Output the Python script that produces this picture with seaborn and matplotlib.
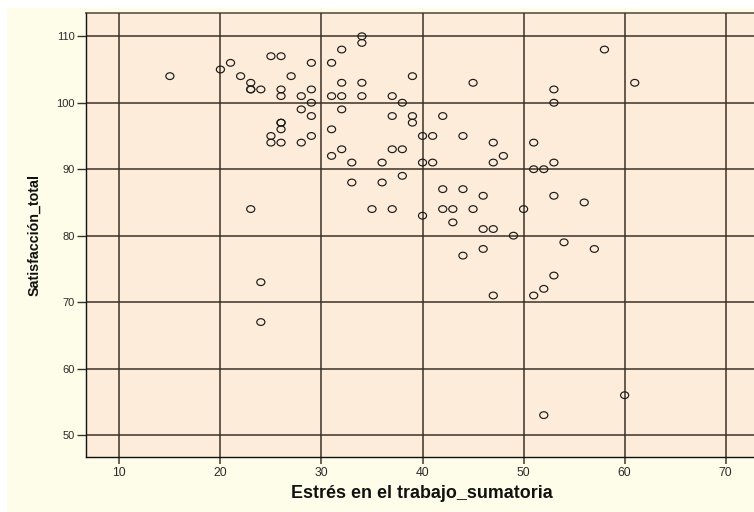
import numpy as np
import pandas as pd
import matplotlib
matplotlib.use("Agg")
import matplotlib.pyplot as plt
import seaborn as sns
from matplotlib.patches import Rectangle
from matplotlib.path import Path
from matplotlib.transforms import Affine2D
from matplotlib.markers import MarkerStyle

# ---- data ----
estres = [15, 20, 21, 22, 23, 23, 23, 23, 24, 24, 24,
          25, 25, 25, 26, 26, 26, 26, 26, 26, 26, 27,
          28, 28, 28, 29, 29, 29, 29, 29,
          31, 31, 31, 31, 32, 32, 32, 32, 32, 33, 33,
          34, 34, 34, 34, 35, 36, 36, 37, 37, 37, 37,
          38, 38, 38, 39, 39, 39, 40, 40, 40, 41, 41,
          42, 42, 42, 43, 43, 44, 44, 44, 45, 45,
          46, 46, 46, 47, 47, 47, 47, 48, 49, 50,
          51, 51, 51, 52, 52, 52, 53, 53, 53, 53, 53,
          54, 56, 57, 58, 60, 61]
satisfaccion = [104, 105, 106, 104, 103, 102, 102, 84, 102, 73, 67,
                107, 95, 94, 107, 102, 101, 97, 97, 96, 94, 104,
                101, 99, 94, 106, 102, 100, 98, 95,
                106, 101, 96, 92, 108, 103, 101, 99, 93, 91, 88,
                110, 109, 103, 101, 84, 91, 88, 101, 98, 93, 84,
                100, 93, 89, 104, 98, 97, 95, 91, 83, 95, 91,
                98, 87, 84, 84, 82, 95, 87, 77, 103, 84,
                86, 81, 78, 94, 91, 81, 71, 92, 80, 84,
                94, 90, 71, 90, 72, 53, 102, 100, 91, 86, 74,
                79, 85, 78, 108, 56, 103]
x_ticks = [10, 20, 30, 40, 50, 60, 70]
y_ticks = [50, 60, 70, 80, 90, 100, 110]
x_label = "Estrés en el trabajo_sumatoria"
y_label = "Satisfacción_total"

df = pd.DataFrame({"x": estres, "y": satisfaccion})

sns.set_style("white")
plt.rcParams["font.family"] = ["Liberation Sans", "DejaVu Sans"]

W, H = 754, 512
fig = plt.figure(figsize=(W / 100, H / 100), dpi=100, facecolor="white")
bgrect = Rectangle((7 / W, 0), 1, 1 - 8 / H, transform=fig.transFigure,
                   facecolor="#FEFDE9", edgecolor="none", zorder=-10)
fig.patches.append(bgrect)

left, right, top, bottom = 86, 754, 13, 457
ax = fig.add_axes([left / W, (H - bottom) / H, (right - left) / W, (bottom - top) / H])
ax.set_zorder(5)
ax.set_facecolor("#FDECD9")

grid_color = "#3a3026"

ell = Path.unit_circle().transformed(Affine2D().scale(1.2, 1.0))
sns.scatterplot(data=df, x="x", y="y", ax=ax, marker=MarkerStyle(ell), s=34,
                facecolor="none", edgecolor="#1a1a1a", linewidth=0.85, zorder=3)

ax.set_xlim(6.7, 72.8)
ax.set_ylim(46.7, 113.5)
ax.set_xticks(x_ticks)
ax.set_yticks(y_ticks)
ax.grid(True, color=grid_color, alpha=0.78, linewidth=1.4, zorder=1)
ax.set_axisbelow(True)

for s in ["left", "bottom"]:
    ax.spines[s].set_color("#111111")
    ax.spines[s].set_linewidth(1.0)
ax.spines["top"].set_color(grid_color)
ax.spines["top"].set_alpha(0.7)
ax.spines["top"].set_linewidth(1.4)
ax.spines["right"].set_visible(False)

ax.tick_params(axis="y", direction="out", length=6.5, width=1, color="#333333",
               pad=1.5, labelsize=8, labelcolor="#2a2a2a", left=True)
ax.tick_params(axis="x", direction="out", length=5, width=1.4, color="#6e6052",
               pad=2, labelsize=8.7, labelcolor="#2a2a2a", bottom=True)

ax.set_xlabel(x_label, fontsize=12.9, fontweight="bold", color="#111111", va="center")
ax.set_ylabel(y_label, fontsize=10.3, fontweight="bold", color="#111111", va="center")
ax.xaxis.set_label_coords((422 - left) / (right - left), (bottom - 493) / (bottom - top))
ax.yaxis.set_label_coords((34 - left) / (right - left), 0.5)

fig.savefig("out.png", dpi=100, facecolor=fig.get_facecolor())
